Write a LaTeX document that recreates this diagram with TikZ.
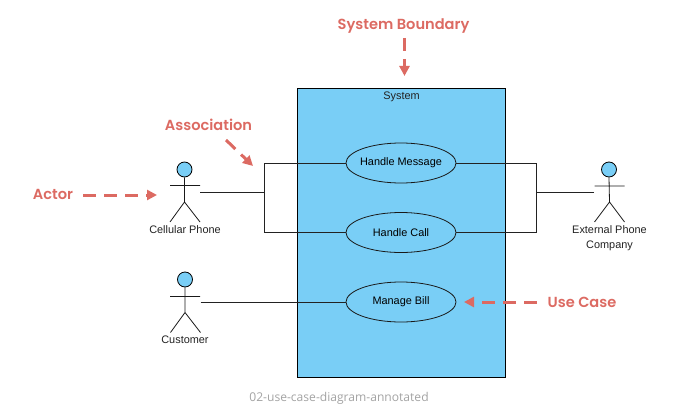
\documentclass[tikz,border=0pt]{standalone}
\usepackage{fontspec}
\setmainfont{Liberation Sans}
\newfontfamily\annotfont{Poppins SemiBold}
\newfontfamily\capfont{Open Sans}
\usetikzlibrary{shapes.geometric,arrows.meta}
\definecolor{sysblue}{HTML}{79CEF6}
\definecolor{annot}{HTML}{DC6A62}
\definecolor{capgray}{HTML}{A3A3A3}
\definecolor{linegray}{HTML}{222222}
\newcommand{\ucname}[1]{\makebox[0pt][c]{#1}}
\tikzset{
  x=1pt,y=-1pt,
  sysbox/.style={draw=black,line width=0.9pt,fill=sysblue,minimum width=208pt,minimum height=288.5pt,inner sep=0pt},
  usecase/.style={ellipse,draw=black!90,line width=0.8pt,fill=sysblue,minimum width=110pt,minimum height=40pt,inner sep=0pt,font=\fontsize{10.9}{12}\selectfont},
  txt/.style={inner sep=0pt,font=\fontsize{10.9}{12}\selectfont,text=linegray},
  actorlabel/.style={txt,align=center,anchor=north},
  assoc/.style={draw=linegray,line width=0.9pt},
  stick/.style={draw=black!90,line width=0.8pt},
  head/.style={circle,draw=black,line width=0.8pt,fill=sysblue,minimum size=15pt,inner sep=0pt},
  callout/.style={inner sep=0pt,text=annot,font=\annotfont\fontsize{14.6}{17}\selectfont},
  calloutarrow/.style={draw=annot,line width=3pt,dash pattern=on 13pt off 8pt,-{Triangle[length=10pt,width=10pt,fill=annot]}},
}
\begin{document}
\begin{tikzpicture}
\useasboundingbox (0,0) rectangle (682,409);
% system boundary
\node[sysbox] (system) at (401.5,232.75) {};
\node[txt] (systemlabel) at (401.5,97) {System};
% use cases
\node[usecase] (msg) at (401,163) {\ucname{Handle Message}};
\node[usecase] (call) at (401,232.5) {\ucname{Handle Call}};
\node[usecase] (bill) at (401,302) {\ucname{Manage Bill}};
% actors
\node[head] (h1) at (184.5,169.5) {};
\coordinate (s1l) at (170,185.5); \coordinate (s1r) at (200,185.5);
\coordinate (b1) at (184.5,202); \coordinate (f1l) at (170,222); \coordinate (f1r) at (200,222);
\draw[stick] (h1.south) -- (b1) (s1l) -- (s1r) (f1l) -- (b1) -- (f1r);
\node[actorlabel] (l1) at (185,225) {Cellular Phone};
\node[head] (h2) at (185,279.5) {};
\coordinate (s2l) at (170,296.5); \coordinate (s2r) at (200,296.5);
\coordinate (b2) at (185,312.5); \coordinate (f2l) at (170.5,332.5); \coordinate (f2r) at (200.5,332.5);
\draw[stick] (h2.south) -- (b2) (s2l) -- (s2r) (f2l) -- (b2) -- (f2r);
\node[actorlabel] (l2) at (185,336) {Customer};
\node[head] (h3) at (609,169.5) {};
\coordinate (s3l) at (594.5,186); \coordinate (s3r) at (624.5,186);
\coordinate (b3) at (609.5,202); \coordinate (f3l) at (594.5,222); \coordinate (f3r) at (624.5,222);
\draw[stick] (h3.south) -- (b3) (s3l) -- (s3r) (f3l) -- (b3) -- (f3r);
\node[actorlabel] (l3) at (609.5,225.5) {External Phone\\[2.5pt]Company};
% associations
\coordinate (a1) at (200,192); \coordinate (j1) at (264,192);
\coordinate (a3) at (594,192); \coordinate (j3) at (536.5,192);
\coordinate (a2) at (200.5,302);
\draw[assoc] (a1) -- (j1);
\draw[assoc] (msg.west) -- (264,163) -- (264,232.5) -- (call.west);
\draw[assoc] (msg.east) -- (536.5,163) -- (536.5,232.5) -- (call.east);
\draw[assoc] (a3) -- (j3);
\draw[assoc] (a2) -- (bill.west);
% callouts
\node[callout] (cb) at (403.5,26) {System Boundary};
\node[callout] (ca) at (208.5,124.5) {Association};
\node[callout] (cc) at (53,194.5) {Actor};
\node[callout] (cu) at (582,302.5) {Use Case};
\coordinate (t1) at (404.5,38); \coordinate (t1e) at (404.5,76);
\coordinate (t2) at (226,140); \coordinate (t2e) at (253,166);
\coordinate (t3) at (83,195); \coordinate (t3e) at (157,195);
\coordinate (t4) at (537,302); \coordinate (t4e) at (464,302);
\draw[calloutarrow] (t1) -- (t1e);
\draw[calloutarrow] (t2) -- (t2e);
\draw[calloutarrow] (t3) -- (t3e);
\draw[calloutarrow] (t4) -- (t4e);
% caption
\node[inner sep=0pt,text=capgray,font=\capfont\fontsize{12.1}{14}\selectfont] (cap) at (339,398) {02-use-case-diagram-annotated};
\end{tikzpicture}
\end{document}
